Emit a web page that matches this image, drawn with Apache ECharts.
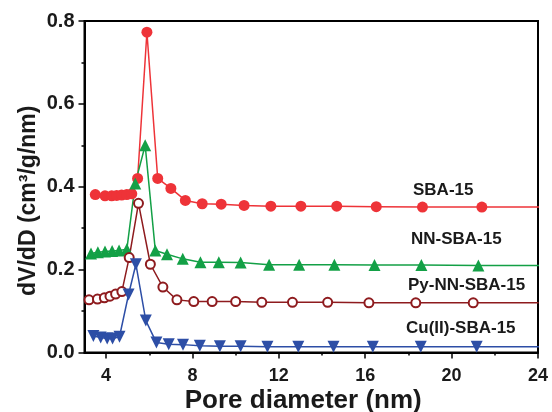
<!DOCTYPE html>
<html>
<head>
<meta charset="utf-8">
<script src="https://cdn.jsdelivr.net/npm/echarts@6/dist/echarts.min.js"></script>
<style>
html,body{margin:0;padding:0;background:#fff;}
#chart{width:552px;height:412px;}
</style>
</head>
<body>
<div id="chart"></div>
<script>
// ---- data ----
const seriesNames = ['SBA-15', 'NN-SBA-15', 'Py-NN-SBA-15', 'Cu(II)-SBA-15'];

const sbaX = [3.5, 3.95, 4.26, 4.49, 4.72, 4.96, 5.19, 5.46, 5.89, 6.39, 7.0, 7.67, 8.45, 9.33, 10.39, 11.63, 13.02, 14.68, 16.51, 18.65, 21.4, 24.6];
const sbaY = [0.381, 0.378, 0.378, 0.379, 0.380, 0.381, 0.383, 0.420, 0.773, 0.420, 0.396, 0.367, 0.359, 0.358, 0.355, 0.353, 0.353, 0.353, 0.352, 0.351, 0.351, 0.351];

const nnX = [3.3, 3.62, 3.95, 4.28, 4.6, 4.96, 5.35, 5.81, 6.28, 6.82, 7.55, 8.37, 9.22, 10.23, 11.55, 12.94, 14.57, 16.43, 18.6, 21.24, 24.6];
const nnY = [0.239, 0.242, 0.244, 0.245, 0.246, 0.249, 0.408, 0.500, 0.246, 0.237, 0.226, 0.218, 0.218, 0.217, 0.212, 0.212, 0.212, 0.211, 0.211, 0.210, 0.210];

const pyX = [3.21, 3.6, 3.92, 4.18, 4.44, 4.73, 5.07, 5.5, 6.05, 6.63, 7.28, 8.06, 8.91, 10.0, 11.21, 12.63, 14.26, 16.17, 18.34, 21.0, 24.03];
const pyY = [0.127, 0.129, 0.132, 0.136, 0.141, 0.147, 0.229, 0.360, 0.213, 0.158, 0.127, 0.123, 0.123, 0.123, 0.121, 0.121, 0.121, 0.120, 0.120, 0.120, 0.120];

const cuX = [3.41, 3.75, 4.05, 4.3, 4.62, 5.04, 5.38, 5.84, 6.33, 6.9, 7.56, 8.34, 9.27, 10.23, 11.47, 12.9, 14.53, 16.35, 18.57, 21.16, 24.6];
const cuY = [0.040, 0.036, 0.034, 0.034, 0.038, 0.140, 0.213, 0.077, 0.024, 0.020, 0.019, 0.016, 0.015, 0.015, 0.014, 0.014, 0.014, 0.014, 0.014, 0.014, 0.014];

const xMajorTicks = [4, 8, 12, 16, 20, 24];
const xMinorTicks = [6, 10, 14, 18, 22];

const xTitle = 'Pore diameter (nm)';
const yTitle = 'dV/dD (cm³/g/nm)';

// ---- build ----
const zip = (xs, ys) => xs.map((x, i) => [x, ys[i]]);
const FONT = '"Liberation Sans", Arial, sans-serif';
const TXT = '#1a1a1a';

const chart = echarts.init(document.getElementById('chart'), null, {renderer: 'canvas'});

function lineSeries(name, data, color, symbol, size, hollow, rotate) {
  return {
    name: name,
    type: 'line',
    data: data,
    symbol: symbol,
    symbolSize: size,
    symbolRotate: rotate || 0,
    clip: true,
    z: 3,
    lineStyle: {color: color, width: 1.5},
    itemStyle: hollow ? {color: '#fff', borderColor: color, borderWidth: 2} : {color: color, borderWidth: 0},
    emphasis: {disabled: true},
    animation: false
  };
}

const option = {
  animation: false,
  backgroundColor: '#fff',
  grid: {left: 84.5, right: 14, top: 21, bottom: 59.5, containLabel: false, outerBoundsMode: 'none',
         show: true, borderColor: '#000', borderWidth: 2, backgroundColor: 'transparent'},
  xAxis: [{
    type: 'value', min: 3, max: 24,
    name: xTitle, nameLocation: 'middle', nameGap: 35, nameMoveOverlap: false,
    nameTextStyle: {fontFamily: FONT, fontWeight: 'bold', fontSize: 26, color: TXT, padding: [0, 16, 0, 0]},
    axisLine: {show: true, onZero: false, lineStyle: {color: '#000', width: 2}},
    axisTick: {show: true, inside: false, length: 6, customValues: xMajorTicks, lineStyle: {color: '#000', width: 1.5}},
    axisLabel: {show: true, customValues: xMajorTicks, margin: 15, fontFamily: FONT, fontWeight: 'bold', fontSize: 18, color: TXT},
    splitLine: {show: false}
  }, {
    type: 'value', min: 3, max: 24, position: 'bottom',
    axisLine: {show: false},
    axisTick: {show: true, inside: false, length: 3, customValues: xMinorTicks, lineStyle: {color: '#000', width: 1.5}},
    axisLabel: {show: false},
    splitLine: {show: false}
  }],
  yAxis: {
    type: 'value', min: 0, max: 0.8, interval: 0.2,
    name: yTitle, nameLocation: 'middle', nameGap: 44, nameMoveOverlap: false,
    nameTextStyle: {fontFamily: FONT, fontWeight: 'bold', fontSize: 23, color: TXT, padding: [0, 28, 0, 0]},
    axisLine: {show: true, onZero: false, lineStyle: {color: '#000', width: 2}},
    axisTick: {show: true, inside: false, length: 6, lineStyle: {color: '#000', width: 1.5}},
    minorTick: {show: true, splitNumber: 2, length: 3, lineStyle: {color: '#000', width: 1.5}},
    axisLabel: {margin: 10, fontFamily: FONT, fontWeight: 'bold', fontSize: 20, color: TXT, formatter: v => v.toFixed(1)},
    splitLine: {show: false},
    minorSplitLine: {show: false}
  },
  series: [
    lineSeries(seriesNames[0], zip(sbaX, sbaY), '#ee3338', 'circle', 11, false),
    lineSeries(seriesNames[1], zip(nnX, nnY), '#13a046', 'triangle', 12, false),
    lineSeries(seriesNames[2], zip(pyX, pyY), '#8e1b1e', 'circle', 9, true),
    lineSeries(seriesNames[3], zip(cuX, cuY), '#2d4ea6', 'triangle', 12, false, 180)
  ],
  graphic: [
    {type: 'text', left: 413, top: 182, style: {text: seriesNames[0], fontFamily: FONT, fontWeight: 'bold', fontSize: 17, fill: TXT}},
    {type: 'text', left: 411, top: 231, style: {text: seriesNames[1], fontFamily: FONT, fontWeight: 'bold', fontSize: 17, fill: TXT}},
    {type: 'text', left: 408, top: 277, style: {text: seriesNames[2], fontFamily: FONT, fontWeight: 'bold', fontSize: 17, fill: TXT}},
    {type: 'text', left: 406, top: 320, style: {text: seriesNames[3], fontFamily: FONT, fontWeight: 'bold', fontSize: 17, fill: TXT}}
  ]
};
chart.setOption(option);
</script>
</body>
</html>
